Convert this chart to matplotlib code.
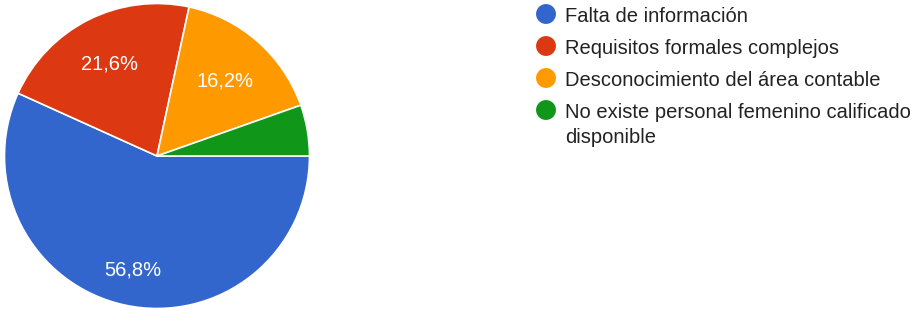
import numpy as np
import matplotlib
matplotlib.use("Agg")
import matplotlib.pyplot as plt

# datos (respuestas)
categorias = ["Falta de información",
              "Requisitos formales complejos",
              "Desconocimiento del área contable",
              "No existe personal femenino calificado\ndisponible"]
respuestas = [21, 8, 6, 2]
colores = ["#3366cc", "#dc3912", "#ff9900", "#109618"]

plt.rcParams['font.family'] = ['Liberation Sans', 'DejaVu Sans']

W, H = 913, 310
fig = plt.figure(figsize=(W / 100, H / 100), dpi=100)

# pastel: centro (157,156) px, radio 152.5 px
cx, cy, r = 157, 156, 152.5
ax = fig.add_axes([(cx - r) / W, (H - cy - r) / H, 2 * r / W, 2 * r / H])


def etiqueta(p):
    # los sectores pequeños no llevan etiqueta
    if p < 6:
        return ""
    return f"{p:.1f}%".replace(".", ",")


wedges, textos, autotextos = ax.pie(
    respuestas, colors=colores, startangle=0, counterclock=False,
    autopct=etiqueta, pctdistance=0.72,
    wedgeprops=dict(edgecolor="white", linewidth=1.2),
    textprops=dict(color="white", fontsize=14.5))

# distancia de cada etiqueta al centro (como en el original)
dist_etiqueta = [0.75, 0.69, 0.67, 0.7]
for w, t, d in zip(wedges, autotextos, dist_etiqueta):
    ang = np.deg2rad((w.theta1 + w.theta2) / 2)
    t.set_position((d * np.cos(ang), d * np.sin(ang)))
    t.set_va("center_baseline")

ax.set_xlim(-1, 1)
ax.set_ylim(-1, 1)
ax.axis("off")

# leyenda dibujada a mano en coordenadas de pixel
lax = fig.add_axes([0, 0, 1, 1])
lax.set_xlim(0, W)
lax.set_ylim(H, 0)
lax.axis("off")

filas = [14 + 32 * i for i in range(len(categorias))]
lax.scatter([546] * len(categorias), filas, s=205, c=colores, linewidths=0)
for y, texto in zip(filas, categorias):
    lax.text(565, y - 7, texto, va="top", ha="left", fontsize=14.5,
             color="#222222", linespacing=1.39)

fig.savefig("out.png", dpi=100)
